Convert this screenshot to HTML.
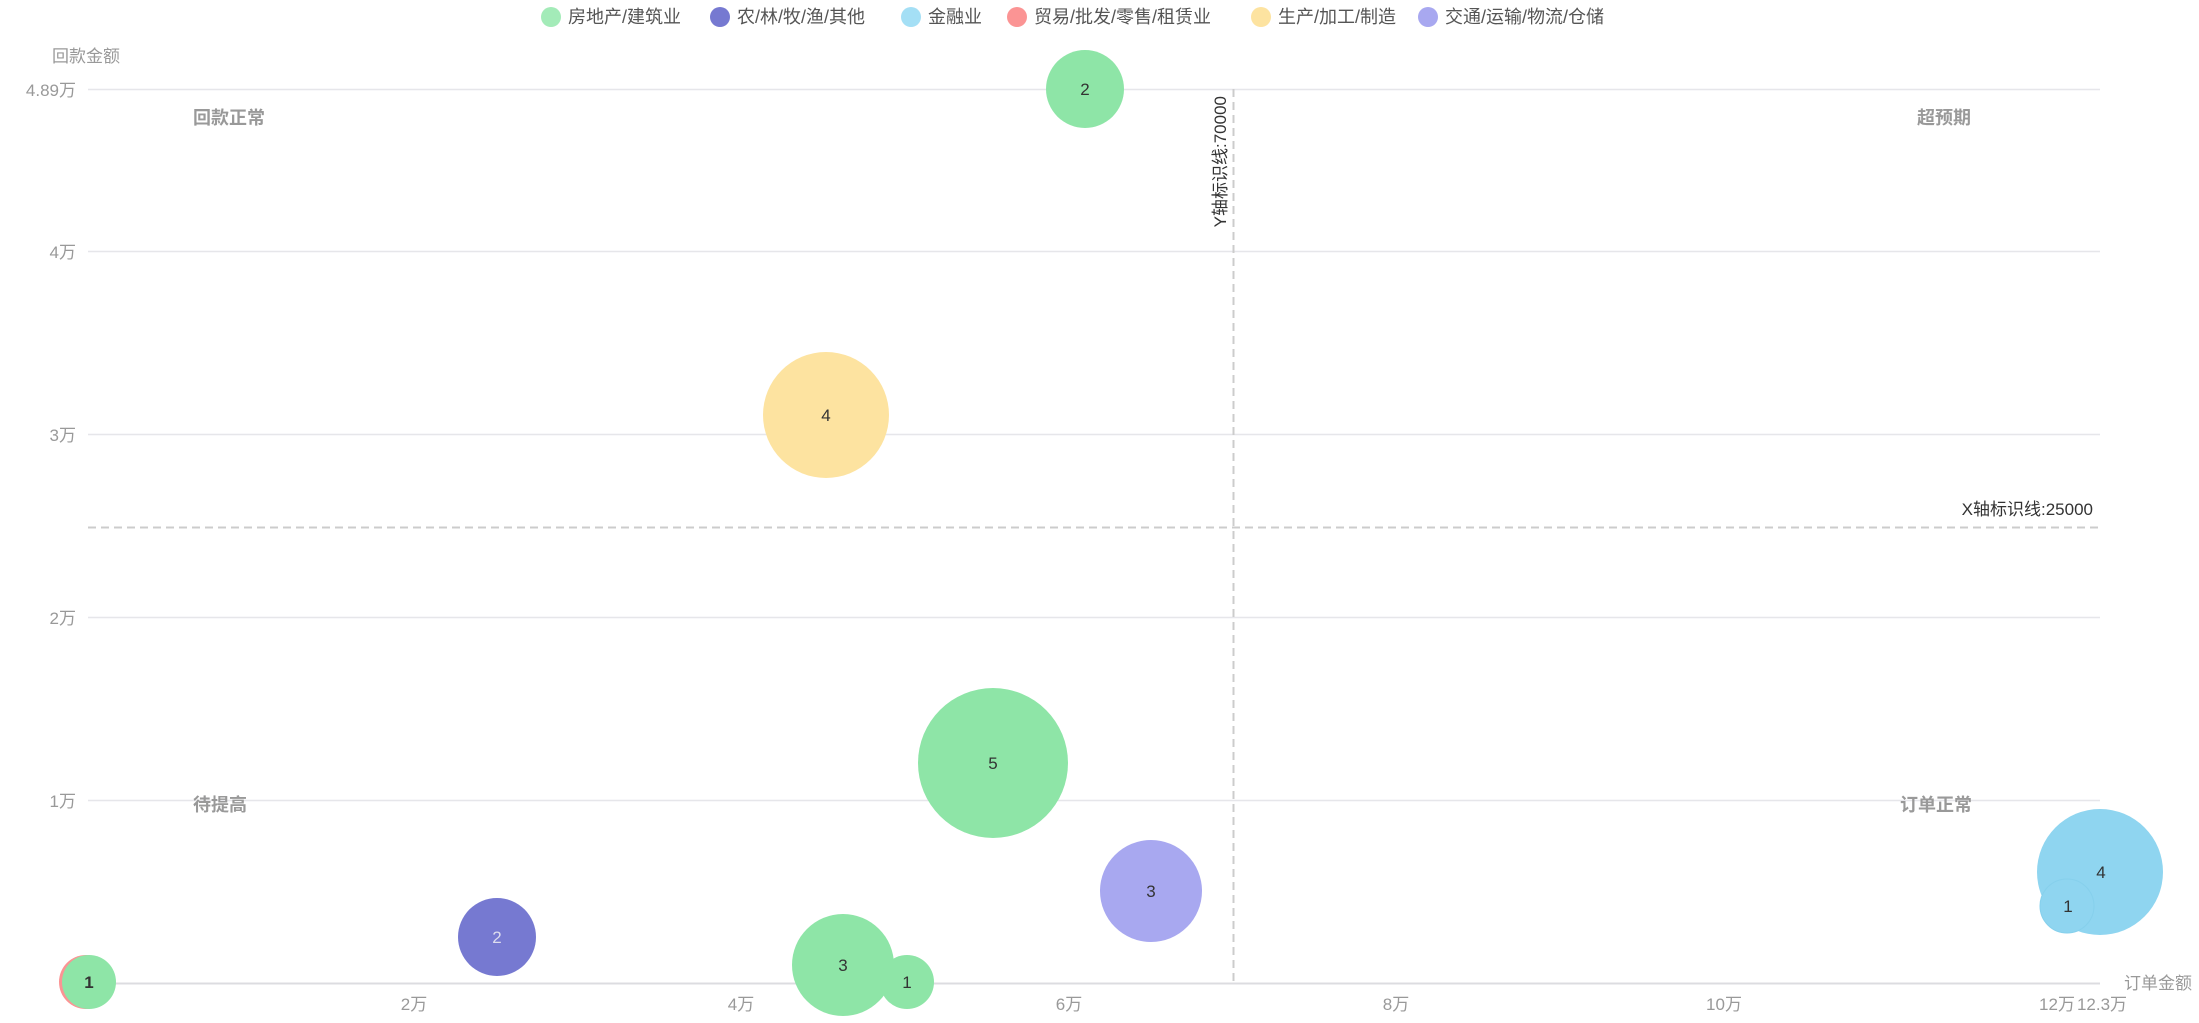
<!DOCTYPE html>
<html><head><meta charset="utf-8"><style>html,body{margin:0;padding:0;background:#fff}svg{display:block}</style></head>
<body>
<svg width="2199" height="1023" xmlns="http://www.w3.org/2000/svg" font-family="'Liberation Sans','Noto Sans CJK SC',sans-serif">
<!-- legend -->
<g font-size="18" fill="#555">
<circle cx="551" cy="17" r="10" fill="#a3ebb8"/><text x="568" y="23">房地产/建筑业</text>
<circle cx="720" cy="17" r="10" fill="#7679d1"/><text x="737" y="23">农/林/牧/渔/其他</text>
<circle cx="911" cy="17" r="10" fill="#a4dff5"/><text x="928" y="23">金融业</text>
<circle cx="1017" cy="17" r="10" fill="#fb9494"/><text x="1034" y="23">贸易/批发/零售/租赁业</text>
<circle cx="1261" cy="17" r="10" fill="#fde3a0"/><text x="1278" y="23">生产/加工/制造</text>
<circle cx="1428" cy="17" r="10" fill="#a8a8f0"/><text x="1445" y="23">交通/运输/物流/仓储</text>
</g>
<!-- grid -->
<g stroke="#e6e6ea" stroke-width="1.5">
<line x1="88" y1="89.5" x2="2100" y2="89.5"/>
<line x1="88" y1="251.5" x2="2100" y2="251.5"/>
<line x1="88" y1="434.5" x2="2100" y2="434.5"/>
<line x1="88" y1="617.5" x2="2100" y2="617.5"/>
<line x1="88" y1="800.5" x2="2100" y2="800.5"/>
</g>
<line x1="88" y1="983.5" x2="2100" y2="983.5" stroke="#dcdce0" stroke-width="2"/>
<!-- y labels -->
<g font-size="17" fill="#999" text-anchor="end">
<text x="76" y="96">4.89万</text><text x="76" y="258">4万</text><text x="76" y="441">3万</text>
<text x="76" y="624">2万</text><text x="76" y="807">1万</text>
</g>
<text x="52" y="62" font-size="17" fill="#999">回款金额</text>
<g font-size="17" fill="#999" text-anchor="middle">
<text x="414" y="1010">2万</text><text x="741" y="1010">4万</text><text x="1069" y="1010">6万</text>
<text x="1396" y="1010">8万</text><text x="1724" y="1010">10万</text><text x="2057" y="1010">12万</text><text x="2102" y="1010">12.3万</text>
</g>
<text x="2124" y="989" font-size="17" fill="#999">订单金额</text>
<!-- quadrant labels -->
<g font-size="18" fill="#999" font-weight="bold">
<text x="193" y="124">回款正常</text><text x="1917" y="124">超预期</text>
<text x="193" y="811">待提高</text><text x="1900" y="811">订单正常</text>
</g>
<!-- mark lines -->
<line x1="88" y1="527.5" x2="2100" y2="527.5" stroke="#ccc" stroke-width="2" stroke-dasharray="8,5"/>
<line x1="1233.5" y1="89" x2="1233.5" y2="984" stroke="#ccc" stroke-width="2" stroke-dasharray="8,5"/>
<text x="2093" y="515" font-size="17" fill="#333" text-anchor="end">X轴标识线:25000</text>
<text transform="translate(1226,96) rotate(-90)" font-size="17" fill="#333" text-anchor="end">Y轴标识线:70000</text>
<!-- bubbles -->
<g font-size="17" fill="#333" text-anchor="middle">
<circle cx="1085" cy="89" r="39" fill="#8ee5a7"/><text x="1085" y="95">2</text>
<circle cx="826" cy="415" r="63" fill="#fde3a0"/><text x="826" y="421">4</text>
<circle cx="993" cy="763" r="75" fill="#8ee5a7"/><text x="993" y="769">5</text>
<circle cx="1151" cy="891" r="51" fill="#a8a8f0"/><text x="1151" y="897">3</text>
<circle cx="2100" cy="872" r="63" fill="#8fd5f0"/><text x="2101" y="878">4</text>
<circle cx="2067" cy="906" r="27" fill="#8fd5f0" stroke="#86d0ec"/><text x="2068" y="912">1</text>
<circle cx="497" cy="937" r="39" fill="#7679d1"/><text x="497" y="943" fill="#dde">2</text>
<circle cx="843" cy="965" r="51" fill="#8ee5a7"/><text x="843" y="971">3</text>
<circle cx="907" cy="982" r="27" fill="#8ee5a7"/><text x="907" y="988">1</text>
<circle cx="86" cy="982" r="27" fill="#fb9494"/>
<circle cx="89" cy="982" r="27" fill="#8ee5a7"/><text x="89" y="988" font-weight="bold">1</text>
</g>
</svg>
</body></html>
